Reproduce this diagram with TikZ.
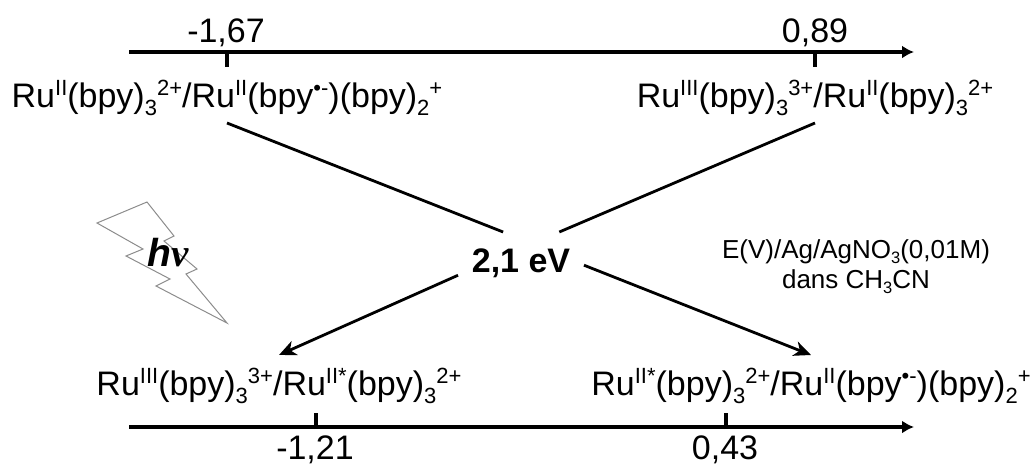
\documentclass[tikz,border=0pt]{standalone}
\usepackage{fontspec}
\setmainfont{Liberation Sans}
\newfontfamily\nufont{Liberation Serif}
\usetikzlibrary{arrows.meta}
\newcommand{\supr}[1]{\raisebox{12pt}{\fontsize{22}{22}\selectfont #1}}
\newcommand{\subr}[1]{\raisebox{-8pt}{\fontsize{22}{22}\selectfont #1}}
\newcommand{\subb}[1]{\raisebox{-5.5pt}{\fontsize{16.5}{16.5}\selectfont #1}}
\tikzset{
  every node/.style={inner sep=0pt,outer sep=0pt},
  big/.style={font=\fontsize{34}{35}\selectfont,anchor=base},
  toplab/.style={big,text depth=16pt},
  botlab/.style={big,text height=40pt},
  num/.style={big},
  note/.style={font=\fontsize{26}{28}\selectfont,anchor=base},
  axis/.style={line width=4pt,-{Latex[length=12pt,width=13pt]}},
  tick/.style={line width=4pt},
  link/.style={line width=2.8pt},
  linkarrow/.style={link,-{Stealth[length=17pt,width=15pt,inset=5pt]}},
  bolt/.style={draw=black!45,line width=1pt,line join=miter}
}
\begin{document}
\begin{tikzpicture}[x=1pt,y=-1pt]
\useasboundingbox (0,0) rectangle (1032,466);
% axes
\coordinate (a1s) at (129,52);
\coordinate (a1e) at (914,52);
\coordinate (a2s) at (129,427);
\coordinate (a2e) at (914,427);
\draw[axis] (a1s) -- (a1e);
\draw[axis] (a2s) -- (a2e);
% ticks
\coordinate (t1a) at (227,50); \coordinate (t1b) at (227,67);
\coordinate (t2a) at (815,50); \coordinate (t2b) at (815,67);
\coordinate (t3a) at (316,429); \coordinate (t3b) at (316,413);
\coordinate (t4a) at (726,429); \coordinate (t4b) at (726,413);
\draw[tick] (t1a) -- (t1b);
\draw[tick] (t2a) -- (t2b);
\draw[tick] (t3a) -- (t3b);
\draw[tick] (t4a) -- (t4b);
% tick values
\node[num] (n1) at (226,42) {-1,67};
\node[num] (n2) at (815,42) {0,89};
\node[num] (n3) at (315,459.5) {-1,21};
\node[num] (n4) at (725,459.5) {0,43};
% couples
\node[toplab] (tl) at (227,107) {Ru\supr{II}(bpy)\subr{3}\supr{2+}/Ru\supr{II}(bpy\supr{•-})(bpy)\subr{2}\supr{+}};
\node[toplab] (tr) at (815,107) {Ru\supr{III}(bpy)\subr{3}\supr{3+}/Ru\supr{II}(bpy)\subr{3}\supr{2+}};
\node[botlab] (bl) at (279,395) {Ru\supr{III}(bpy)\subr{3}\supr{3+}/Ru\supr{II*}(bpy)\subr{3}\supr{2+}};
\node[botlab] (br) at (811,395) {Ru\supr{II*}(bpy)\subr{3}\supr{2+}/Ru\supr{II}(bpy\supr{•-})(bpy)\subr{2}\supr{+}};
% centre
\node[minimum width=126pt,minimum height=62pt,font=\fontsize{34}{35}\selectfont\bfseries] (ev) at (521,263) {2,1 eV};
\draw[link] (tl.south) -- (ev.120.8);
\draw[link] (tr.south) -- (ev.39.2);
\draw[linkarrow] (ev.191.8) -- (bl.north);
\draw[linkarrow] (ev.358.2) -- (br.north);
% note
\node[note] (e1) at (856,258) {E(V)/Ag/AgNO\subb{3}(0,01M)};
\node[note] (e2) at (856,288) {dans CH\subb{3}CN};
% lightning
\draw[bolt] (97,223) -- (147,202) -- (174,236) -- (164,241) -- (197,269) -- (186,274) -- (227,323) -- (156,286) -- (170,279) -- (126,256) -- (143,249) -- cycle;
\node[font=\fontsize{39}{39}\selectfont\bfseries\itshape,anchor=base] (hv) at (168,266) {h{\nufont ν}};
\end{tikzpicture}
\end{document}
